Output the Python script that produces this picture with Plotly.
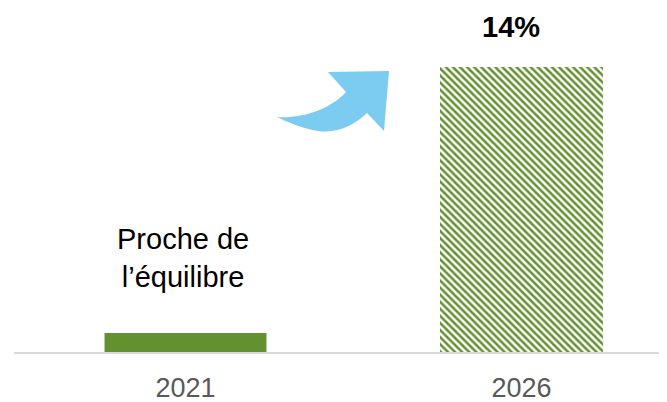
import plotly.graph_objects as go

# Data
years = ["2021", "2026"]
values = [0.93, 14]
top_labels = ["Proche de<br>l’équilibre", "<b>14%</b>"]

GREEN = "#64912F"
BLUE = "#7CCBF0"
FONT = "Liberation Sans, Arial, sans-serif"

# The page places the figure 8px from the top-left corner, so the figure is
# sized to fill the remaining window area.
OFF = 8
W, H = 667 - OFF, 402 - OFF
PLOT_LEFT_IMG, AXIS_IMG_Y = 14, 352
ML, MR, MT, MB = PLOT_LEFT_IMG - OFF, 0, 10 - OFF, (H + OFF) - AXIS_IMG_Y

fig = go.Figure()
fig.add_trace(go.Bar(
    x=[years[0]], y=[values[0]], width=0.482,
    marker=dict(color=GREEN, line=dict(width=0)),
    hoverinfo="skip",
))
fig.add_trace(go.Bar(
    x=[years[1]], y=[values[1]], width=0.485,
    marker=dict(color="white", line=dict(width=0),
                pattern=dict(shape="\\", fgcolor=GREEN, bgcolor="white",
                             size=5, solidity=0.5, fillmode="replace")),
    hoverinfo="skip",
))

# Text labels above bars (category index positions)
fig.add_annotation(x=0, y=values[0], xref="x", yref="y", text=top_labels[0],
                   showarrow=False, yshift=38, yanchor="bottom",
                   font=dict(family=FONT, size=29, color="black"), xshift=-2)
fig.add_annotation(x=1, y=values[1], xref="x", yref="y", text=top_labels[1],
                   showarrow=False, yshift=22, yanchor="bottom",
                   font=dict(family=FONT, size=29, color="black"), xshift=-10)

# Curved arrow: points given in window pixels, converted to plot-relative pixels
def P(px, py):
    return f"{px - PLOT_LEFT_IMG},{AXIS_IMG_Y - py}"

path = ("M " + P(277, 117) +
        " C " + P(300, 119) + " " + P(330, 110) + " " + P(346, 92) +
        " L " + P(328, 72) +
        " L " + P(389, 71) +
        " L " + P(384, 131) +
        " L " + P(367, 113) +
        " C " + P(350, 130) + " " + P(330, 133) + " " + P(318, 131) +
        " C " + P(300, 128) + " " + P(288, 122) + " " + P(277, 117) + " Z")
fig.add_shape(type="path", path=path, xref="paper", yref="paper",
              xsizemode="pixel", ysizemode="pixel", xanchor=0, yanchor=0,
              fillcolor=BLUE, line=dict(width=0))

fig.update_layout(
    width=W, height=H,
    margin=dict(l=ML, r=MR, t=MT, b=MB),
    paper_bgcolor="white", plot_bgcolor="white",
    showlegend=False, barmode="overlay",
    xaxis=dict(type="category", range=[-0.5104, 1.4331],
               showline=True, linecolor="#D9D9D9", linewidth=2,
               showgrid=False, zeroline=False, automargin=False,
               ticks="outside", ticklen=0, tickcolor="white",
               ticklabelstandoff=11,
               tickfont=dict(family=FONT, size=27, color="#595959")),
    yaxis=dict(range=[0, (H - MB - MT) / 20.357], visible=False,
               showgrid=False, zeroline=False, automargin=False),
)

fig.write_html("out.html")
